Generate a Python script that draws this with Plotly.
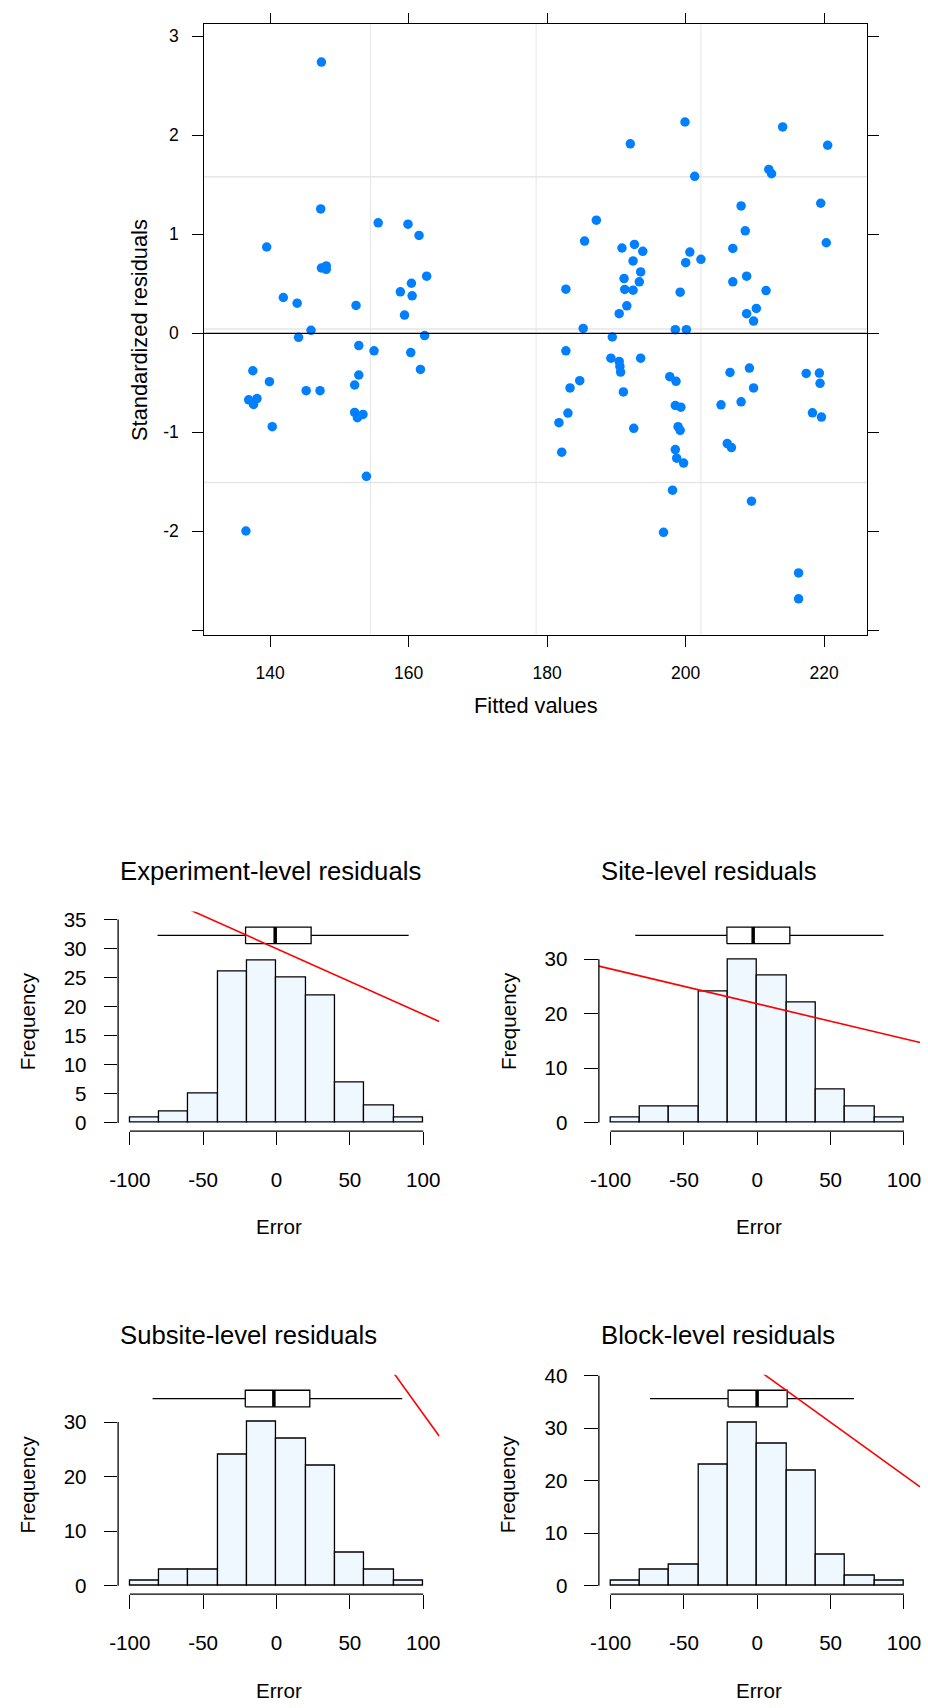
import plotly.graph_objects as go

# ---------------- data ----------------
fitted = [147.4, 199.9, 214.0, 192.0, 220.5, 201.3, 212.0, 212.4, 208.0, 219.5,
          147.3, 155.6, 159.9, 161.5, 187.1, 185.4, 208.6, 139.5, 190.8, 192.6,
          193.8, 206.8, 220.3, 200.6, 200.0, 202.2, 192.4, 147.4, 148.1, 148.1,
          162.6, 193.5, 191.1, 208.8, 206.8, 193.3, 160.4, 182.7, 191.2, 192.4,
          199.2, 211.6, 158.8, 160.5, 141.9, 143.9, 152.4, 191.5, 159.4, 190.4,
          208.8, 210.2, 209.8, 185.2, 198.5, 200.1, 145.9,
          144.1, 162.3, 189.4, 152.8, 155.0, 182.7, 160.3, 189.2, 193.5, 190.4,
          190.5, 190.6, 161.7, 209.2, 137.5, 206.4, 217.4, 219.3, 152.8, 197.7,
          198.6, 139.9, 219.4, 184.7, 152.2, 183.3, 209.8, 191.0, 145.2, 147.2,
          136.9, 138.1, 137.6, 208.0, 205.1, 198.5, 199.3, 152.2, 153.4, 152.6,
          183.0, 218.3, 219.6, 181.7, 140.3, 192.5, 198.9, 199.2, 182.1, 206.0,
          206.6, 198.5, 198.7, 199.7, 153.9, 198.1, 209.5, 136.5, 196.8, 216.3,
          216.3]
std_resid = [2.74, 2.135, 2.085, 1.914, 1.90, 1.586, 1.656, 1.612, 1.287, 1.314,
             1.257, 1.116, 1.103, 0.989, 1.143, 0.932, 1.036, 0.872, 0.862, 0.898,
             0.828, 0.858, 0.915, 0.821, 0.714, 0.748, 0.731, 0.660, 0.681, 0.647,
             0.577, 0.620, 0.553, 0.577, 0.520, 0.520, 0.506, 0.446, 0.443, 0.436,
             0.416, 0.432, 0.419, 0.379, 0.362, 0.305, 0.282, 0.278, 0.184, 0.198,
             0.198, 0.251, 0.124, 0.050, 0.037, 0.037, 0.030,
             -0.040, -0.023, -0.037, -0.124, -0.177, -0.177, -0.194, -0.251, -0.251, -0.284,
             -0.334, -0.391, -0.365, -0.351, -0.378, -0.395, -0.405, -0.401, -0.421, -0.438,
             -0.485, -0.488, -0.505, -0.478, -0.522, -0.552, -0.552, -0.592, -0.579, -0.579,
             -0.672, -0.659, -0.719, -0.692, -0.722, -0.729, -0.746, -0.799, -0.819, -0.853,
             -0.806, -0.803, -0.846, -0.903, -0.943, -0.960, -0.943, -0.980, -1.201, -1.114,
             -1.154, -1.174, -1.261, -1.311, -1.445, -1.585, -1.696, -1.997, -2.010, -2.421,
             -2.682]

scatter_xticks = [140, 160, 180, 200, 220]
scatter_yticks = [-3, -2, -1, 0, 1, 2, 3]
scatter_yticktext = ["", "-2", "-1", "0", "1", "2", "3"]
ref_vlines = [154.5, 178.4, 202.2]
ref_hlines = [1.581, 0.043, -1.508]

bin_centers = [-90, -70, -50, -30, -10, 10, 30, 50, 70, 90]
bin_width = 20
titles = ["Experiment-level residuals", "Site-level residuals",
          "Subsite-level residuals", "Block-level residuals"]
counts_experiment = [1, 2, 5, 26, 28, 25, 22, 7, 3, 1]
counts_site = [1, 3, 3, 24, 30, 27, 22, 6, 3, 1]
counts_subsite = [1, 3, 3, 24, 30, 27, 22, 6, 3, 1]
counts_block = [1, 3, 4, 23, 31, 27, 22, 6, 2, 1]
# boxplot stats: lower whisker, q1, median, q3, upper whisker
box_experiment = [-81.1, -21.1, -0.9, 23.6, 90.1]
box_site = [-83.2, -20.7, -2.8, 22.2, 86.1]
box_subsite = [-84.5, -21.3, -1.8, 22.7, 85.7]
box_block = [-73.2, -19.9, -0.1, 20.4, 65.9]
# red reference lines: intercept, slope
line_experiment = [30.0, -0.113]
line_site = [21.8, -0.0641]
line_subsite = [68.8, -0.373]
line_block = [41.2, -0.2017]
freq_ticks_experiment = [0, 5, 10, 15, 20, 25, 30, 35]
freq_ticks_site = [0, 10, 20, 30]
freq_ticks_subsite = [0, 10, 20, 30]
freq_ticks_block = [0, 10, 20, 30, 40]
error_ticks = [-100, -50, 0, 50, 100]
error_ticktext = ["-100", "-50", "0", "50", "100"]

# ---------------- layout helpers ----------------
W, H = 928, 1708
FONT = "Liberation Sans, Arial, Helvetica, sans-serif"


def px_x(p):
    return p / W


def px_y(p):
    return 1 - p / H


fig = go.Figure()

# ---------------- scatter (lattice style) ----------------
SC_X = [197.0, 867.5]
SC_Y = [13.3, 629.3]
fig.add_trace(go.Scatter(x=fitted, y=std_resid, mode="markers",
                         marker=dict(color="#0080FF", size=9.5, line=dict(width=0)),
                         xaxis="x", yaxis="y", showlegend=False, hoverinfo="skip"))

for v in ref_vlines:
    fig.add_shape(type="line", xref="x", yref="y domain", x0=v, x1=v, y0=0, y1=1,
                  line=dict(color="#E6E6E6", width=1), layer="below")
for h in ref_hlines:
    fig.add_shape(type="line", xref="x domain", yref="y", x0=0, x1=1, y0=h, y1=h,
                  line=dict(color="#E6E6E6", width=1.5), layer="below")
fig.add_shape(type="line", xref="x domain", yref="y", x0=0, x1=1, y0=0, y1=0,
              line=dict(color="black", width=1.2), layer="above")

fig.update_layout(
    xaxis=dict(domain=[px_x(SC_X[0]), px_x(SC_X[1])], range=[130.43, 226.2],
               showline=True, linecolor="black", linewidth=1.2, mirror="ticks",
               ticks="outside", ticklen=10.5, tickwidth=1.2, tickcolor="black",
               tickvals=scatter_xticks, tickfont=dict(family=FONT, size=17.5, color="black"),
               ticklabelstandoff=11, showgrid=False, zeroline=False, anchor="y"),
    yaxis=dict(domain=[px_y(SC_Y[1]), px_y(SC_Y[0])], range=[-3.049, 3.123],
               showline=True, linecolor="black", linewidth=1.2, mirror="ticks",
               ticks="outside", ticklen=10.5, tickwidth=1.2, tickcolor="black",
               tickvals=scatter_yticks, ticktext=scatter_yticktext,
               tickfont=dict(family=FONT, size=17.5, color="black"),
               ticklabelstandoff=10, showgrid=False, zeroline=False, anchor="x"),
)

annotations = [
    dict(text="Fitted values", x=px_x(532.3), y=px_y(700), xref="paper", yref="paper",
         showarrow=False, xanchor="center", yanchor="middle",
         font=dict(family=FONT, size=21.8, color="black")),
    dict(text="Standardized residuals", x=px_x(131.7), y=px_y(321.3), xref="paper", yref="paper",
         showarrow=False, xanchor="center", yanchor="middle", textangle=-90,
         font=dict(family=FONT, size=21.8, color="black")),
]

# ---------------- histograms ----------------
COLS = [[110.3, 435.0], [596.3, 921.0]]
ROWS = [[907.9, 1129.3], [1374.9, 1596.3]]
X_RANGE = [-108.0, 111.0]
Y_RANGES = [[-1.4, 36.4], [-1.57, 38.76], [-1.56, 38.69], [-1.625, 40.21]]
BOX_FRAC, BOX_HALF = 0.8911, 0.0377

panels = [
    (titles[0], counts_experiment, box_experiment, line_experiment, freq_ticks_experiment),
    (titles[1], counts_site, box_site, line_site, freq_ticks_site),
    (titles[2], counts_subsite, box_subsite, line_subsite, freq_ticks_subsite),
    (titles[3], counts_block, box_block, line_block, freq_ticks_block),
]

for i, (title, counts, box, abl, fticks) in enumerate(panels):
    n = i + 2
    xa, ya = f"x{n}", f"y{n}"
    col = COLS[i % 2]
    row = ROWS[i // 2]
    yr = Y_RANGES[i]

    fig.add_trace(go.Bar(x=bin_centers, y=counts, width=[bin_width] * len(counts),
                         marker=dict(color="#F0F8FF", line=dict(color="black", width=1.3)),
                         xaxis=xa, yaxis=ya, showlegend=False, hoverinfo="skip"))

    # boxplot above the histogram
    yc = yr[0] + BOX_FRAC * (yr[1] - yr[0])
    hh = BOX_HALF * (yr[1] - yr[0])
    lo, q1, med, q3, hi = box
    fig.add_trace(go.Scatter(x=[lo, q1, None, q3, hi], y=[yc, yc, None, yc, yc], mode="lines",
                             line=dict(color="black", width=1.3), xaxis=xa, yaxis=ya,
                             showlegend=False, hoverinfo="skip"))
    fig.add_trace(go.Scatter(x=[q1, q3, q3, q1, q1], y=[yc - hh, yc - hh, yc + hh, yc + hh, yc - hh],
                             mode="lines", fill="toself", fillcolor="white",
                             line=dict(color="black", width=1.3), xaxis=xa, yaxis=ya,
                             showlegend=False, hoverinfo="skip"))
    fig.add_trace(go.Scatter(x=[med, med], y=[yc - hh, yc + hh], mode="lines",
                             line=dict(color="black", width=3.5), xaxis=xa, yaxis=ya,
                             showlegend=False, hoverinfo="skip"))

    # red reference line
    a, b = abl
    fig.add_trace(go.Scatter(x=X_RANGE, y=[a + b * X_RANGE[0], a + b * X_RANGE[1]], mode="lines",
                             line=dict(color="#FF0000", width=1.6), xaxis=xa, yaxis=ya,
                             showlegend=False, hoverinfo="skip"))

    fig.update_layout(**{
        f"xaxis{n}": dict(domain=[px_x(col[0]), px_x(col[1])], range=X_RANGE, anchor=ya,
                          showline=False, showgrid=False, zeroline=False,
                          ticks="outside", ticklen=13.4, tickwidth=1.3, tickcolor="black",
                          tickvals=error_ticks, ticktext=error_ticktext,
                          tickfont=dict(family=FONT, size=20.6, color="black"),
                          ticklabelstandoff=17),
        f"yaxis{n}": dict(domain=[px_y(row[1]), px_y(row[0])], range=yr, anchor=xa,
                          showline=False, showgrid=False, zeroline=False,
                          ticks="outside", ticklen=13.4, tickwidth=1.3, tickcolor="black",
                          tickvals=fticks, ticktext=[str(t) for t in fticks],
                          tickfont=dict(family=FONT, size=20.6, color="black"),
                          ticklabelstandoff=13),
    })

    # axis lines spanning only the tick range (R style)
    fig.add_shape(type="line", xref=xa, yref=f"{ya} domain", x0=error_ticks[0], x1=error_ticks[-1],
                  y0=0, y1=0, line=dict(color="black", width=1.3))
    fig.add_shape(type="line", xref=f"{xa} domain", yref=ya, x0=0, x1=0,
                  y0=fticks[0], y1=fticks[-1], line=dict(color="black", width=1.3))

    annotations += [
        dict(text=title, x=px_x(col[0]), y=px_y(row[0] - 40.3), xref="paper", yref="paper",
             showarrow=False, xanchor="left", yanchor="middle",
             font=dict(family=FONT, size=25.7, color="black")),
        dict(text="Frequency", x=px_x(col[0] - 92), y=px_y((row[0] + row[1]) / 2),
             xref="paper", yref="paper", showarrow=False, xanchor="center", yanchor="middle",
             textangle=-90, font=dict(family=FONT, size=20.6, color="black")),
        dict(text="Error", x=px_x((col[0] + col[1]) / 2), y=px_y(row[1] + 96.7),
             xref="paper", yref="paper", showarrow=False, xanchor="center", yanchor="middle",
             font=dict(family=FONT, size=20.6, color="black")),
    ]

fig.update_layout(width=W, height=H, margin=dict(l=0, r=0, t=0, b=0, pad=0),
                  paper_bgcolor="white", plot_bgcolor="white", bargap=0,
                  annotations=annotations, showlegend=False)

fig.write_html("out.html", config={"displayModeBar": False},
               post_script="document.documentElement.style.margin='0';"
                           "document.body.style.margin='0';document.body.style.padding='0';"
                           "window.scrollTo(0,0);")
